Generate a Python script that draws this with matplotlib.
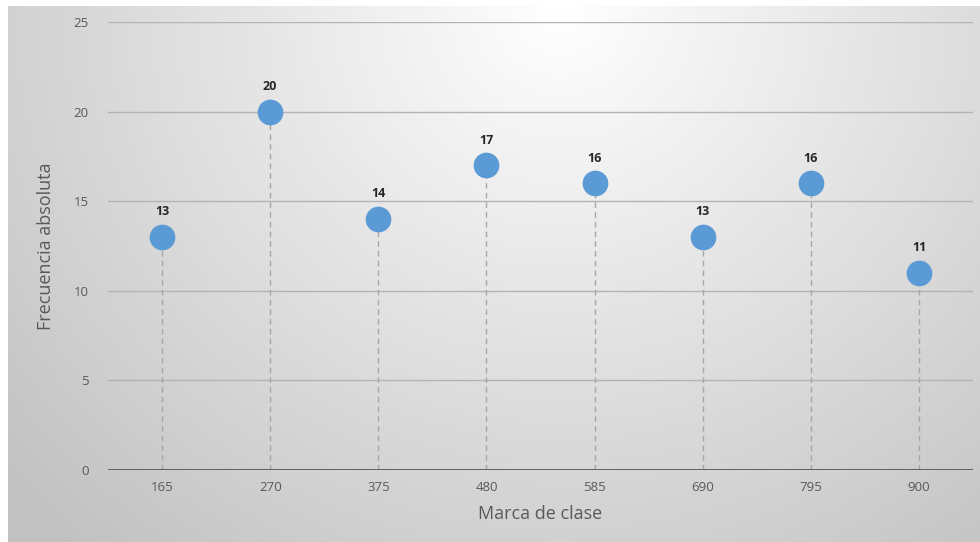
import numpy as np
import matplotlib
matplotlib.use("Agg")
import matplotlib.pyplot as plt

# Class marks and absolute frequencies
clases = ["165", "270", "375", "480", "585", "690", "795", "900"]
frecuencias = [13, 20, 14, 17, 16, 13, 16, 11]
y_ticks = [0, 5, 10, 15, 20, 25]

W, H = 980, 542
fig = plt.figure(figsize=(W / 100, H / 100), dpi=100)
fig.patch.set_facecolor("white")

# Radial gray background of the chart area
bg = fig.add_axes([8 / W, 0, 1 - 8 / W, (H - 6) / H])
gx, gy = np.meshgrid(np.linspace(8, W, 400), np.linspace(6, H, 240))
d = np.sqrt(((gx - 560) / 1.0) ** 2 + ((gy - 10) * 1.05) ** 2)
v = 1.0 - 0.21 * np.clip(d / 650, 0, 1.15) ** 1.0
img = np.dstack([v, v, v])
bg.imshow(img, aspect="auto", extent=[0, 1, 0, 1], interpolation="bilinear")
bg.set_axis_off()

# Plot area
x0, x1 = 108, 973
y0, y1 = 470, 22
ax = fig.add_axes([x0 / W, (H - y0) / H, (x1 - x0) / W, (y0 - y1) / H])
ax.patch.set_alpha(0)
xs = np.arange(len(clases))
ax.set_xlim(-0.5, len(clases) - 0.5)
ax.set_ylim(0, 25)

for yv in y_ticks[1:]:
    ax.axhline(yv, color="#b3b3b3", lw=1.0, zorder=1)
ax.axhline(0, color="#555555", lw=2.0, zorder=3)

ax.vlines(xs, 0, frecuencias, colors="#a6a6a6", linestyles=(0, (4, 3)), lw=1.0, zorder=2)
ax.plot(xs, frecuencias, "o", ms=17.5, color="#5b9bd5", mec="#5b9bd5", zorder=4)

for xi, f in zip(xs, frecuencias):
    ax.annotate(str(f), (xi, f), xytext=(0, 13.5), textcoords="offset points",
                ha="center", va="bottom", fontsize=9, fontweight="bold",
                color="#262626", family="Open Sans")

for s in ax.spines.values():
    s.set_visible(False)
ax.set_xticks(xs)
ax.set_xticklabels(clases)
ax.set_yticks(y_ticks)
ax.tick_params(length=0, labelsize=9.5, labelcolor="#595959", pad=8)
ax.tick_params(axis="y", pad=14)
for lab in ax.get_xticklabels() + ax.get_yticklabels():
    lab.set_family("Open Sans")

ax.set_xlabel("Marca de clase", fontsize=13, color="#595959", family="Open Sans", labelpad=8)
ax.set_ylabel("Frecuencia absoluta", fontsize=13, color="#595959", family="Open Sans", labelpad=13)

fig.savefig("out.png", dpi=100)
